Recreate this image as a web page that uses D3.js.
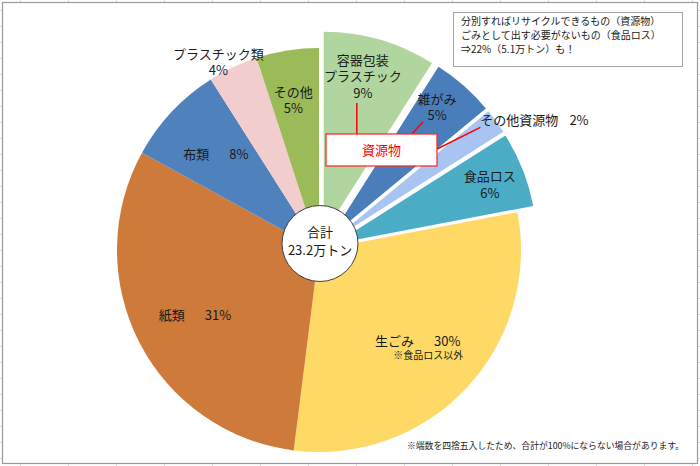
<!DOCTYPE html>
<html>
<head>
<meta charset="utf-8">
<script src="https://cdn.jsdelivr.net/npm/d3@7"></script>
<style>
  body { margin: 0; background: #fff; }
  svg { display: block; font-family: "Noto Sans CJK JP", "Noto Sans", sans-serif; }
</style>
</head>
<body>
<svg id="chart"></svg>
<script>
// data
const categories = ["容器包装プラスチック", "雑がみ", "その他資源物", "食品ロス", "生ごみ", "紙類", "布類", "プラスチック類", "その他"];
const nameLines = [["容器包装", "プラスチック"], ["雑がみ"], ["その他資源物"], ["食品ロス"], ["生ごみ"], ["紙類"], ["布類"], ["プラスチック類"], ["その他"]];
const values = [9, 5, 2, 6, 30, 31, 8, 4, 5];
const exploded = [true, true, true, true, false, false, false, false, false];
const colors = ["#B0D59E", "#4A7EBB", "#A8C4F3", "#4BACC6", "#FFD966", "#CD7A3A", "#4F81BD", "#F2CDCD", "#9BBB59"];
const totalLabel = ["合計", "23.2万トン"];
const noteLines = ["分別すればリサイクルできるもの（資源物）", "ごみとして出す必要がないもの（食品ロス）", "⇒22%（5.1万トン）も！"];
const footNote = "※端数を四捨五入したため、合計が100%にならない場合があります。";

// label layout: radial fraction, nudge, inline (name + gap + value) or stacked
const labelLayout = [
  { k: 0.80, dx: -6, dy: -2, inline: false },
  { k: 0.83, dx: -4, dy: -4, inline: false },
  { k: 0.94, dx: -6, dy: -8, inline: true, anchor: "start", gap: 11 },
  { k: 0.82, dx: 1, dy: 2, inline: false },
  { k: 0.67, dx: 0, dy: -1, inline: true, gap: 20, sub: "※食品ロス以外" },
  { k: 0.70, dx: 2, dy: 1, inline: true, gap: 20 },
  { k: 0.70, dx: 0, dy: 1, inline: true, gap: 20 },
  { k: 1.054, dx: -10, dy: 5, inline: false },
  { k: 0.75, dx: -2, dy: 0, inline: false }
];

const W = 700, H = 466;
const cx = 319, cy = 250, R = 202, explodeBy = 17;

const svg = d3.select("#chart").attr("width", W).attr("height", H);

// sheet gridlines behind the chart
const grid = svg.append("g").attr("stroke", "#dcdcdc").attr("stroke-width", 1);
d3.range(20, W, 48).forEach(x => grid.append("line").attr("x1", x + 0.5).attr("x2", x + 0.5).attr("y1", 0).attr("y2", H));
d3.range(10, H, 16).forEach(y => grid.append("line").attr("x1", 0).attr("x2", W).attr("y1", y + 0.5).attr("y2", y + 0.5));

svg.append("rect")
  .attr("x", 2.5).attr("y", 2.5)
  .attr("width", 695).attr("height", 461)
  .attr("fill", "#fff")
  .attr("stroke", "#9a9a9a")
  .attr("stroke-width", 1.2);

const pie = d3.pie().sort(null).value(d => d.value);
const arc = d3.arc().innerRadius(0).outerRadius(R);

const rows = categories.map((c, i) => ({ name: c, value: values[i], i }));
const arcs = pie(rows);

const shift = d => {
  const a = (d.startAngle + d.endAngle) / 2;
  const e = exploded[d.data.i] ? explodeBy : 0;
  return [e * Math.sin(a), -e * Math.cos(a)];
};

const g = svg.append("g").attr("transform", `translate(${cx},${cy})`);

g.selectAll("path.slice")
  .data(arcs)
  .enter().append("path")
  .attr("class", "slice")
  .attr("d", arc)
  .attr("fill", d => colors[d.data.i])
  .attr("transform", d => `translate(${shift(d)[0]},${shift(d)[1]})`);

// slice labels
const lineH = 16.5;
const labelPos = arcs.map(d => {
  const L = labelLayout[d.data.i];
  const a = (d.startAngle + d.endAngle) / 2;
  const s = shift(d);
  return [s[0] + L.k * R * Math.sin(a) + L.dx, s[1] - L.k * R * Math.cos(a) + L.dy];
});

arcs.forEach((d, j) => {
  const i = d.data.i;
  const L = labelLayout[i];
  const pct = d.data.value + "%";
  const [x, y] = labelPos[j];
  if (L.inline) {
    const t = g.append("text")
      .attr("x", x)
      .attr("y", y)
      .attr("dy", "0.36em")
      .attr("text-anchor", L.anchor || "middle")
      .attr("font-size", 13)
      .attr("fill", "#1a1a1a");
    t.append("tspan").text(nameLines[i].join(""));
    t.append("tspan").attr("dx", L.gap).text(pct);
  } else {
    const lines = nameLines[i].concat([pct]);
    lines.forEach((s, n) => {
      g.append("text")
        .attr("x", x)
        .attr("y", y + (n - (lines.length - 1) / 2) * lineH)
        .attr("dy", "0.36em")
        .attr("text-anchor", L.anchor || "middle")
        .attr("font-size", 13)
        .attr("fill", "#1a1a1a")
        .text(s);
    });
  }
  if (L.sub) {
    g.append("text")
      .attr("x", x + 10.5)
      .attr("y", y + 14)
      .attr("dy", "0.36em")
      .attr("text-anchor", "middle")
      .attr("font-size", 10)
      .attr("fill", "#1a1a1a")
      .text(L.sub);
  }
});

// 資源物 callout box and leaders
const box = { x: 7, y: -116, w: 111, h: 32 };
const p0 = labelPos[0], p1 = labelPos[1], p2 = labelPos[2];
const leaders = [
  [[p0[0] - 6, p0[1] + lineH + 10], [p0[0] - 6, box.y]],
  [[p1[0] - 14, p1[1] + lineH / 2 + 6], [box.x + box.w - 25, box.y]],
  [[p2[0], p2[1] + 7], [box.x + box.w, box.y + box.h / 2 - 1]]
];
leaders.forEach(l => {
  g.append("line")
    .attr("x1", l[0][0]).attr("y1", l[0][1])
    .attr("x2", l[1][0]).attr("y2", l[1][1])
    .attr("stroke", "#ff0000")
    .attr("stroke-width", 1.5);
});
g.append("rect")
  .attr("x", box.x).attr("y", box.y)
  .attr("width", box.w).attr("height", box.h)
  .attr("fill", "#fff")
  .attr("stroke", "#ff2020")
  .attr("stroke-width", 1.2);
g.append("text")
  .attr("x", box.x + box.w / 2)
  .attr("y", box.y + box.h / 2)
  .attr("dy", "0.36em")
  .attr("text-anchor", "middle")
  .attr("font-size", 13)
  .attr("fill", "#ff0000")
  .text("資源物");

// total circle
g.append("circle")
  .attr("cx", 1).attr("cy", -6.5)
  .attr("r", 38)
  .attr("fill", "#fff")
  .attr("stroke", "#404040")
  .attr("stroke-width", 1);
totalLabel.forEach((t, n) => {
  g.append("text")
    .attr("x", 1)
    .attr("y", -17.5 + n * 17.5)
    .attr("dy", "0.36em")
    .attr("text-anchor", "middle")
    .attr("font-size", 13)
    .attr("fill", "#1a1a1a")
    .text(t);
});

// note box top-right
svg.append("rect")
  .attr("x", 453.5).attr("y", 12.5)
  .attr("width", 229).attr("height", 54)
  .attr("fill", "#fff")
  .attr("stroke", "#a6a6a6")
  .attr("stroke-width", 1);
noteLines.forEach((t, n) => {
  svg.append("text")
    .attr("x", 461)
    .attr("y", 21.5 + n * 14)
    .attr("dy", "0.36em")
    .attr("font-size", 10)
    .attr("fill", "#1a1a1a")
    .text(t);
});

svg.append("text")
  .attr("x", 407)
  .attr("y", 446)
  .attr("dy", "0.36em")
  .attr("font-size", 8.8)
  .attr("fill", "#1a1a1a")
  .text(footNote);
</script>
</body>
</html>
